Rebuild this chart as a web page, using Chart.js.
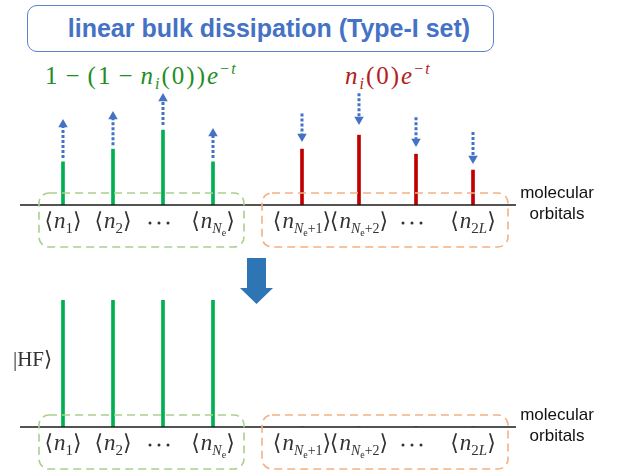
<!DOCTYPE html>
<html lang="en">
  <head>
    <meta charset="UTF-8" />
    <title>Linear bulk dissipation</title>
    <script src="https://cdn.jsdelivr.net/npm/chart.js"></script>
    <style>
      body {
        margin: 0;
        background: #fff;
      }
      .page {
        position: relative;
        width: 626px;
        height: 473px;
        overflow: hidden;
      }
      canvas {
        position: absolute;
        left: 0;
      }
      .title {
        position: absolute;
        left: 27px;
        top: 5px;
        width: 448px;
        height: 45px;
        border: 1.5px solid #5b83cf;
        border-radius: 10px;
        color: #4472c4;
        font: bold 25px "Liberation Sans", Arial, sans-serif;
        line-height: 45px;
        text-align: center;
        padding-left: 17px;
        box-sizing: content-box;
      }
      .formula {
        position: absolute;
        top: 62px;
        font: 25px "Liberation Serif", "DejaVu Serif", serif;
        letter-spacing: 2px;
        white-space: nowrap;
      }
      .formula i { font-style: italic; }
      .formula sub { font-size: 16px; vertical-align: -5px; line-height: 0; }
      .formula sup { font-size: 16px; vertical-align: 10px; line-height: 0; }
      .op { margin: 0 6px; }
    </style>
  </head>
  <body>
    <div class="page">
      <div class="title">linear bulk dissipation (Type-I set)</div>
      <div class="formula" style="left:45px;color:#1f8f24">1<span class="op">−</span>(1<span class="op">−</span><i>n</i><sub><i>i</i></sub>(0))<i>e</i><sup>−<i>t</i></sup></div>
      <div class="formula" style="left:345px;color:#b42020"><i>n</i><sub><i>i</i></sub>(0)<i>e</i><sup>−<i>t</i></sup></div>
      <canvas id="topChart" width="626" height="250" style="top:0"></canvas>
      <canvas id="botChart" width="626" height="223" style="top:250px"></canvas>
    </div>

    <script>
      // orbital slots and their bracket labels
      var occIndex = [1, 2, 3, 4];
      var virIndex = [1, 2, 3, 4];
      var occLabels = ["n_1", "n_2", "...", "n_{Ne}"];
      var virLabels = ["n_{Ne+1}", "n_{Ne+2}", "...", "n_{2L}"];

      // occupations during the dissipation (top panel)
      var occNow = [0.34, 0.44, 0.59, 0.34];
      var occArrowFrom = [0.37, 0.47, 0.63, 0.37];
      var occArrowTo = [0.634, 0.697, 0.839, 0.563];
      var virNow = [0.44, 0.55, 0.40, 0.275];
      var virArrowFrom = [0.72, 0.88, 0.69, 0.575];
      var virArrowTo = [0.539, 0.673, 0.5, 0.366];

      // Hartree-Fock occupations (bottom panel)
      var hfOcc = [1, 1, 1, 1];
      var hfVir = [0, 0, 0, 0];

      var GREEN = "#00b050";
      var RED = "#c00000";
      var BLUE = "#4472c4";
      var SERIF = '"Liberation Serif", "DejaVu Serif", serif';

      function pts(xs, ys) {
        return xs.map(function (x, i) { return { x: x, y: ys[i] }; });
      }

      function arrowSets(axis, xs, from, to, down) {
        return xs.map(function (x, i) {
          return {
            type: "line",
            xAxisID: axis,
            data: [{ x: x, y: from[i] }, { x: x, y: to[i] }],
            borderColor: BLUE,
            borderWidth: 3,
            borderDash: [3, 2],
            pointRadius: [0, 5.5],
            pointStyle: "triangle",
            rotation: down ? 180 : 0,
            pointBackgroundColor: BLUE,
            pointBorderWidth: 0,
            clip: false
          };
        });
      }

      // split "n_{Ne+1}" into pieces to draw like the math labels
      function labelPieces(label) {
        var sub = label.slice(2).replace("{", "").replace("}", "");
        var p = [{ t: "n", f: "italic 23px " + SERIF, dy: 0 }];
        if (sub.charAt(0) === "N") {
          p.push({ t: "N", f: "italic 14px " + SERIF, dy: 5 });
          p.push({ t: "e", f: "10px " + SERIF, dy: 8 });
          if (sub.length > 2) p.push({ t: sub.slice(2), f: "14px " + SERIF, dy: 5 });
        } else {
          for (var k = 0; k < sub.length; k++) {
            var c = sub.charAt(k);
            p.push({ t: c, f: (/[0-9]/.test(c) ? "" : "italic ") + "15px " + SERIF, dy: 5 });
          }
        }
        return p;
      }

      function drawOrbLabel(ctx, label, cx, base) {
        ctx.fillStyle = "#333";
        if (label === "...") {
          for (var d = -1; d <= 1; d++) {
            ctx.beginPath();
            ctx.arc(cx - 4 + d * 9, base - 5, 1.5, 0, Math.PI * 2);
            ctx.fill();
          }
          return;
        }
        var parts = [{ t: "⟨", f: "22px " + SERIF, dy: 0, gap: 1 }]
          .concat(labelPieces(label))
          .concat([{ t: "⟩", f: "22px " + SERIF, dy: 0, pre: 0 }]);
        var w = 0;
        parts.forEach(function (p) {
          ctx.font = p.f;
          p.w = ctx.measureText(p.t).width + (p.gap || 0) + (p.pre || 0);
          w += p.w;
        });
        var x = cx - w / 2;
        ctx.textBaseline = "alphabetic";
        ctx.textAlign = "left";
        parts.forEach(function (p) {
          ctx.font = p.f;
          ctx.fillText(p.t, x + (p.pre || 0), base + p.dy);
          x += p.w;
        });
      }

      function dashedBox(ctx, x0, y0, x1, y1, color) {
        ctx.save();
        ctx.strokeStyle = color;
        ctx.lineWidth = 1.6;
        ctx.setLineDash([8, 5]);
        ctx.beginPath();
        ctx.roundRect(x0, y0, x1 - x0, y1 - y0, 10);
        ctx.stroke();
        ctx.restore();
      }

      // baseline, bracket labels, group boxes and the side caption
      var orbitalAxis = {
        id: "orbitalAxis",
        afterDraw: function (chart) {
          var ctx = chart.ctx;
          var y0 = chart.scales.y.getPixelForValue(0);
          var xo = chart.scales.xOcc;
          var xv = chart.scales.xVir;
          ctx.save();
          ctx.strokeStyle = "#1a1a1a";
          ctx.lineWidth = 1.5;
          ctx.beginPath();
          ctx.moveTo(20, y0);
          ctx.lineTo(516, y0);
          ctx.stroke();

          dashedBox(ctx, xo.getPixelForValue(occIndex[0]) - 24, y0 - 12,
            xo.getPixelForValue(occIndex[3]) + 31, y0 + 42, "#a9d18e");
          dashedBox(ctx, xv.getPixelForValue(virIndex[0]) - 40, y0 - 12,
            xv.getPixelForValue(virIndex[3]) + 35, y0 + 42, "#f4b183");

          occLabels.forEach(function (l, i) {
            drawOrbLabel(ctx, l, xo.getPixelForValue(occIndex[i]), y0 + 23);
          });
          virLabels.forEach(function (l, i) {
            drawOrbLabel(ctx, l, xv.getPixelForValue(virIndex[i]), y0 + 23);
          });

          ctx.fillStyle = "#111";
          ctx.font = '17px "Liberation Sans", Arial, sans-serif';
          ctx.textAlign = "center";
          ctx.textBaseline = "middle";
          ctx.fillText("molecular", 557, y0 - 12);
          ctx.fillText("orbitals", 557, y0 + 9);
          ctx.restore();
        }
      };

      // big down arrow and the |HF> state label
      var hfDecor = {
        id: "hfDecor",
        afterDraw: function (chart) {
          var ctx = chart.ctx;
          ctx.save();
          ctx.fillStyle = "#2e75b6";
          ctx.beginPath();
          ctx.moveTo(247, 8);
          ctx.lineTo(266, 8);
          ctx.lineTo(266, 38);
          ctx.lineTo(273, 38);
          ctx.lineTo(256.5, 54);
          ctx.lineTo(240, 38);
          ctx.lineTo(247, 38);
          ctx.closePath();
          ctx.fill();

          ctx.fillStyle = "#333";
          ctx.font = "21px " + SERIF;
          ctx.textAlign = "left";
          ctx.textBaseline = "middle";
          ctx.fillText("|HF⟩", 13, chart.scales.y.getPixelForValue(0.52));
          ctx.restore();
        }
      };

      function scales() {
        return {
          xOcc: { type: "linear", display: false, offset: false, min: -0.26, max: 12.26 },
          xVir: { type: "linear", display: false, offset: false, min: -4.298, max: 6.684 },
          y: { display: false, min: 0, max: 1 }
        };
      }

      var common = {
        responsive: false,
        animation: false,
        events: [],
        plugins: { legend: { display: false }, tooltip: { enabled: false } }
      };

      new Chart(document.getElementById("topChart"), {
        type: "bar",
        data: {
          datasets: [
            { xAxisID: "xOcc", data: pts(occIndex, occNow), backgroundColor: GREEN, barThickness: 3, grouped: false },
            { xAxisID: "xVir", data: pts(virIndex, virNow), backgroundColor: RED, barThickness: 3, grouped: false }
          ].concat(arrowSets("xOcc", occIndex, occArrowFrom, occArrowTo, false))
           .concat(arrowSets("xVir", virIndex, virArrowFrom, virArrowTo, true))
        },
        options: Object.assign({}, common, {
          layout: { autoPadding: false, padding: { top: 78, bottom: 45, left: 0, right: 0 } },
          scales: scales()
        }),
        plugins: [orbitalAxis]
      });

      new Chart(document.getElementById("botChart"), {
        type: "bar",
        data: {
          datasets: [
            { xAxisID: "xOcc", data: pts(occIndex, hfOcc), backgroundColor: GREEN, barThickness: 3, grouped: false },
            { xAxisID: "xVir", data: pts(virIndex, hfVir), backgroundColor: RED, barThickness: 3, grouped: false }
          ]
        },
        options: Object.assign({}, common, {
          layout: { autoPadding: false, padding: { top: 50, bottom: 46, left: 0, right: 0 } },
          scales: scales()
        }),
        plugins: [orbitalAxis, hfDecor]
      });
    </script>
  </body>
</html>
